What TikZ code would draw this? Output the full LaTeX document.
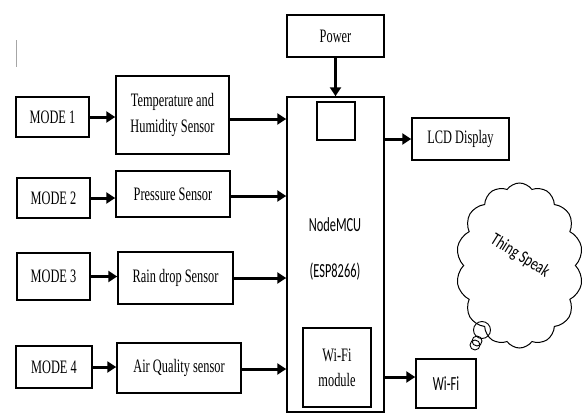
\documentclass[tikz,border=0pt]{standalone}
\usepackage{fontspec}
\setmainfont{Liberation Serif}
\newfontfamily\serifw[FakeStretch=0.65]{Liberation Serif}
\newfontfamily\calw[FakeStretch=0.62]{Carlito}
\newfontfamily\calt[FakeStretch=0.75]{Carlito}
\usetikzlibrary{arrows.meta,shapes.symbols}
\begin{document}
\begin{tikzpicture}[x=1pt,y=-1pt,
  box/.style={draw, line width=1.5pt, inner sep=0pt, align=center,
    font=\serifw\fontsize{19}{26}\selectfont},
  calfont/.style={font=\calw\fontsize{20}{24}\selectfont},
  arr/.style={line width=3pt, -{Triangle[length=9pt,width=11pt]}},
  bubble/.style={circle, draw, line width=0.9pt, inner sep=0pt}
]
\useasboundingbox (0,0) rectangle (584,413);

% stray mark
\draw[gray!70, line width=0.8pt] (16,40) -- (16,67);

% left column
\node[box, minimum width=73pt, minimum height=40pt] (mode1) at (52.5,117) {MODE 1};
\node[box, minimum width=73pt, minimum height=40pt] (mode2) at (53.5,198) {MODE 2};
\node[box, minimum width=73pt, minimum height=47pt] (mode3) at (53.5,276.5) {MODE 3};
\node[box, minimum width=76pt, minimum height=42pt] (mode4) at (54,367) {MODE 4};

% sensors
\node[box, minimum width=113pt, minimum height=78pt] (temp) at (172.5,115) {Temperature and\\Humidity Sensor};
\node[box, minimum width=114pt, minimum height=46pt] (press) at (173,194) {Pressure Sensor};
\node[box, minimum width=115pt, minimum height=52pt] (rain) at (175.5,278) {Rain drop Sensor};
\node[box, minimum width=124pt, minimum height=50pt] (air) at (179,368) {Air Quality sensor};

% NodeMCU
\node[box, minimum width=97pt, minimum height=315pt] (mcu) at (335.5,254.5) {};
\node[calfont] (mcutxt) at (335,225) {NodeMCU};
\node[calfont] (esp) at (335,272) {(ESP8266)};
\node[box, minimum width=38pt, minimum height=38pt] (sq) at (336,121) {};
\node[box, font=\serifw\fontsize{19}{25}\selectfont, minimum width=68pt, minimum height=79pt] (wmod) at (337,367.5) {Wi-Fi\\module};

\node[box, minimum width=97pt, minimum height=42pt] (power) at (335.5,36) {Power};
\node[box, minimum width=97pt, minimum height=42pt] (lcd) at (460.5,139) {LCD Display};
\node[box, calfont, minimum width=60pt, minimum height=49pt] (wifi) at (446,383.5) {Wi-Fi};

% cloud
\node[cloud, draw, line width=1pt, cloud puffs=14, cloud puff arc=110, cloud ignores aspect,
  minimum width=127pt, minimum height=165pt, inner sep=0pt] (cloud) at (519.5,265.5) {};
\node[rotate=-32, inner sep=0pt, font=\calt\fontsize{18}{20}\selectfont] (ts) at (520,256) {Thing Speak};
\node[bubble, minimum size=17pt] (b1) at (482,330) {};
\node[bubble, minimum size=10pt] (b2) at (477,341) {};
\node[bubble, minimum size=10pt] (b3) at (475,345) {};

% arrows
\draw[arr] (mode1.east) -- (mode1.east -| temp.west);
\draw[arr] (mode2.east) -- (mode2.east -| press.west);
\draw[arr] (mode3.east) -- (mode3.east -| rain.west);
\draw[arr] (mode4.east) -- (mode4.east -| air.west);

\coordinate (t1) at (229,119);
\coordinate (t2) at (230,196);
\coordinate (t3) at (233,278);
\coordinate (t4) at (241,369);
\draw[arr] (t1) -- (t1 -| mcu.west);
\draw[arr] (t2) -- (t2 -| mcu.west);
\draw[arr] (t3) -- (t3 -| mcu.west);
\draw[arr] (t4) -- (t4 -| mcu.west);

\draw[arr] (power.south) -- (power.south |- mcu.north);
\draw[arr] (lcd.west -| mcu.east) -- (lcd.west);
\coordinate (w1) at (416,377);
\draw[arr] (w1 -| mcu.east) -- (w1 -| wifi.west);
\end{tikzpicture}
\end{document}
